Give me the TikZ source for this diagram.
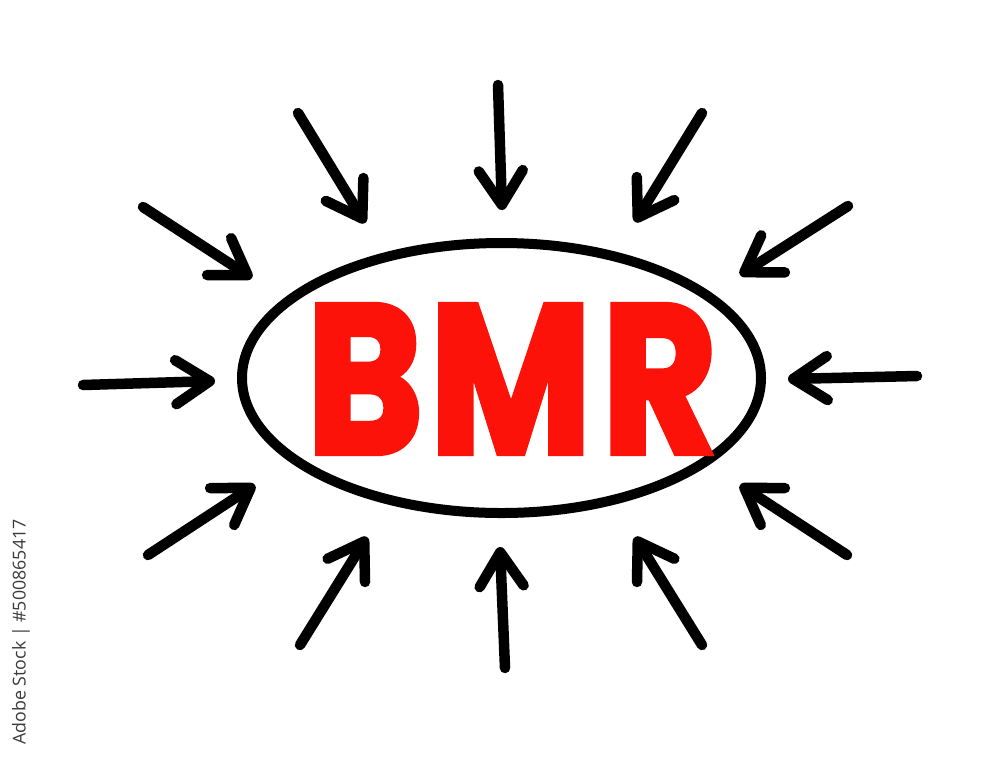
\documentclass[tikz,border=0pt]{standalone}
\usepackage{fontspec}
\usetikzlibrary{arrows.meta,shapes.geometric}
\newfontfamily\bmrfont[FakeBold=3]{Poppins Bold}
\newfontfamily\idfont{Open Sans}
\definecolor{bmrred}{RGB}{252,18,8}
\definecolor{idgray}{RGB}{60,60,60}
\tikzset{
  arr/.style={line width=10.5pt, line cap=round, line join=round, black,
    -{Straight Barb[length=34pt,width=44pt,round]}},
  ring/.style={draw=black, line width=10pt, ellipse, inner sep=0pt},
}
\begin{document}
\begin{tikzpicture}[x=1pt,y=-1pt]
\useasboundingbox[fill=white] (0,0) rectangle (1000,756);
% central ellipse and label
\node[ring, minimum width=519pt, minimum height=270pt] (ell) at (501.5,378) {};
\node[text=bmrred, inner sep=0pt] (lbl) at (512,379)
  {\resizebox{410pt}{148pt}{\bmrfont B\kern0.04em M\kern0.06em R}};
% arrow end points
\coordinate (t1) at (143,207); \coordinate (h1) at (252,278);
\coordinate (t2) at (298,113); \coordinate (h2) at (365,223);
\coordinate (t3) at (498,85);  \coordinate (h3) at (502,210);
\coordinate (t4) at (702,113); \coordinate (h4) at (635,222);
\coordinate (t5) at (848,206); \coordinate (h5) at (740,275);
\coordinate (t6) at (83,385);  \coordinate (h6) at (215,381);
\coordinate (t7) at (917,376); \coordinate (h7) at (788,379);
\coordinate (t8) at (148,555); \coordinate (h8) at (255,485);
\coordinate (t9) at (300,645); \coordinate (h9) at (367,537);
\coordinate (t10) at (505,668); \coordinate (h10) at (500,547);
\coordinate (t11) at (702,645); \coordinate (h11) at (635,537);
\coordinate (t12) at (847,555); \coordinate (h12) at (740,485);
\foreach \i in {1,...,12} { \draw[arr] (t\i) -- (h\i); }
% stock id
\node[rotate=90, text=idgray, inner sep=0pt] (sid) at (21,632)
  {\resizebox{225pt}{!}{\idfont Adobe Stock | \#500865417}};
\end{tikzpicture}
\end{document}
